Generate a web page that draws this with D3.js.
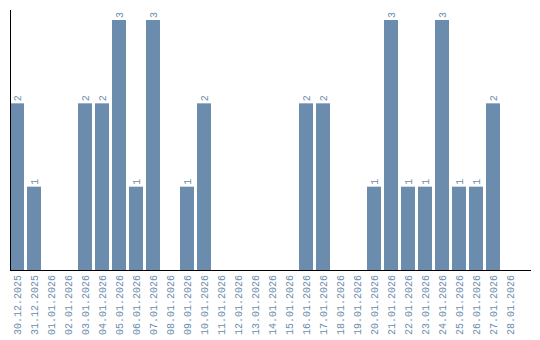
<!DOCTYPE html>
<html>
<head>
<meta charset="utf-8">
<script src="https://cdn.jsdelivr.net/npm/d3@7"></script>
<style>
  body { margin: 0; background: #fff; }
  svg { display: block; }
</style>
</head>
<body>
<svg id="chart"></svg>
<script>
const dates = [
  '30.12.2025', '31.12.2025', '01.01.2026', '02.01.2026', '03.01.2026',
  '04.01.2026', '05.01.2026', '06.01.2026', '07.01.2026', '08.01.2026',
  '09.01.2026', '10.01.2026', '11.01.2026', '12.01.2026', '13.01.2026',
  '14.01.2026', '15.01.2026', '16.01.2026', '17.01.2026', '18.01.2026',
  '19.01.2026', '20.01.2026', '21.01.2026', '22.01.2026', '23.01.2026',
  '24.01.2026', '25.01.2026', '26.01.2026', '27.01.2026', '28.01.2026'
];
const counts = [2, 1, 0, 0, 2, 2, 3, 1, 3, 0, 1, 2, 0, 0, 0, 0, 0, 2, 2, 0, 0, 1, 3, 1, 1, 3, 1, 1, 2, 0];

const width = 540;
const height = 340;
const left = 10;
const baseY = 270;
const barColor = '#6b8cac';
const font = '"Liberation Mono", monospace';

const data = dates.map((d, i) => ({ label: d, value: counts[i] }));

const svg = d3.select('#chart')
  .attr('width', width)
  .attr('height', height);

const x = d3.scaleBand()
  .domain(dates)
  .range([left, left + 17 * 29 + 14])
  .paddingInner(3 / 17)
  .paddingOuter(0);

const y = d3.scaleLinear()
  .domain([0, 3])
  .range([baseY, 20]);

// bars
svg.selectAll('rect.bar')
  .data(data.filter(d => d.value > 0))
  .enter()
  .append('rect')
  .attr('class', 'bar')
  .attr('x', d => x(d.label))
  .attr('y', d => y(d.value))
  .attr('width', x.bandwidth())
  .attr('height', d => baseY - y(d.value))
  .attr('fill', barColor);

// value labels above bars
svg.selectAll('text.val')
  .data(data.filter(d => d.value > 0))
  .enter()
  .append('text')
  .attr('class', 'val')
  .text(d => d.value)
  .attr('transform', d => `translate(${x(d.label) + x.bandwidth() / 2 + 3.5}, ${y(d.value) - 2}) rotate(-90)`)
  .style('font-family', font)
  .style('font-size', '10px')
  .style('fill', barColor);

// axes
svg.append('line')
  .attr('x1', left + 0.5).attr('x2', left + 0.5)
  .attr('y1', 10).attr('y2', baseY)
  .attr('stroke', '#000');

svg.append('line')
  .attr('x1', left).attr('x2', 531)
  .attr('y1', baseY + 0.5).attr('y2', baseY + 0.5)
  .attr('stroke', '#000');

// date labels
svg.selectAll('text.tick')
  .data(dates)
  .enter()
  .append('text')
  .attr('class', 'tick')
  .text(d => d)
  .attr('transform', d => `translate(${x(d) + x.bandwidth() / 2 + 3.5}, ${baseY + 5}) rotate(-90)`)
  .style('text-anchor', 'end')
  .style('font-family', font)
  .style('font-size', '10px')
  .style('fill', barColor);
</script>
</body>
</html>
